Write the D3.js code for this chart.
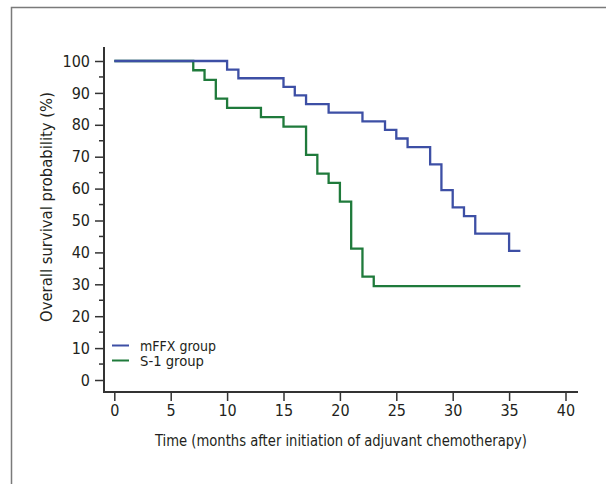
<!DOCTYPE html>
<html>
<head>
<meta charset="utf-8">
<script src="https://cdn.jsdelivr.net/npm/d3@7"></script>
<style>
  body { margin: 0; background: #fff; }
  svg { display: block; }
  text { font-family: "Liberation Sans Narrow", "DejaVu Sans Condensed", "Roboto", sans-serif; fill: #231f20; }
</style>
</head>
<body>
<svg width="606" height="484"></svg>
<script>
// Kaplan-Meier steps: time of each drop and survival (%) after it
var mffxTimes = [0, 10, 11, 15, 16, 17, 19, 22, 24, 25, 26, 28, 29, 30, 31, 32, 35, 36];
var mffxSurv  = [100, 97.3, 94.6, 91.9, 89.2, 86.5, 83.8, 81.1, 78.4, 75.7, 73.0, 67.6, 59.5, 54.1, 51.4, 45.9, 40.5, 40.5];
var s1Times = [0, 7, 8, 9, 10, 13, 15, 17, 18, 19, 20, 21, 22, 23, 36];
var s1Surv  = [100, 97.1, 94.1, 88.2, 85.3, 82.4, 79.4, 70.6, 64.7, 61.8, 55.9, 41.2, 32.4, 29.4, 29.4];
var xTicks = [0, 5, 10, 15, 20, 25, 30, 35, 40];
var yTicks = [0, 10, 20, 30, 40, 50, 60, 70, 80, 90, 100];
var seriesNames = ['mFFX group', 'S-1 group'];
var seriesColors = ['#3d4fa5', '#1f7a3b'];

var svg = d3.select('svg');

// outer frame (left and top only)
svg.append('path')
    .attr('d', 'M11.5,484 V7.5 H606')
    .attr('fill', 'none')
    .attr('stroke', '#7a7a7a')
    .attr('stroke-width', 1.5);

var x = d3.scaleLinear().domain([0, 40]).range([114.3, 565.5]);
var y = d3.scaleLinear().domain([0, 100]).range([380, 61]);

// y axis
var yAxis = d3.axisLeft(y).tickValues(yTicks).tickSize(9).tickPadding(5);
var gy = svg.append('g').attr('transform', 'translate(104,0)').call(yAxis);
gy.select('.domain').remove();
gy.selectAll('.tick line').attr('stroke', '#333').attr('stroke-width', 1.5);
gy.selectAll('.tick text').style('font-size', '16px').attr('fill', '#231f20');
// minor ticks
gy.selectAll('.minor')
    .data(d3.range(5, 100, 10))
    .enter().append('line')
    .attr('x1', -5).attr('x2', 0)
    .attr('y1', function(d) { return y(d); })
    .attr('y2', function(d) { return y(d); })
    .attr('stroke', '#333').attr('stroke-width', 1.5);

// x axis
var xAxis = d3.axisBottom(x).tickValues(xTicks).tickSize(9).tickPadding(4);
var gx = svg.append('g').attr('transform', 'translate(0,392)').call(xAxis);
gx.select('.domain').remove();
gx.selectAll('.tick line').attr('stroke', '#333').attr('stroke-width', 1.5);
gx.selectAll('.tick text').style('font-size', '16px').attr('fill', '#231f20');

// axis lines (L shape)
svg.append('path')
    .attr('d', 'M104,47 V392 H578')
    .attr('fill', 'none')
    .attr('stroke', '#333')
    .attr('stroke-width', 2);

// survival curves
var line = d3.line()
    .x(function(d) { return x(d[0]); })
    .y(function(d) { return y(d[1]); })
    .curve(d3.curveStepAfter);

var series = [d3.zip(mffxTimes, mffxSurv), d3.zip(s1Times, s1Surv)];
svg.selectAll('.km')
    .data([1, 0])
    .enter().append('path')
    .attr('class', 'km')
    .attr('d', function(i) { return line(series[i]); })
    .attr('fill', 'none')
    .attr('stroke', function(i) { return seriesColors[i]; })
    .attr('stroke-width', 2.3);

// legend
var lg = svg.append('g');
seriesNames.forEach(function(name, i) {
    var ly = 345.5 + i * 15;
    lg.append('line')
        .attr('x1', 112).attr('x2', 129)
        .attr('y1', ly).attr('y2', ly)
        .attr('stroke', seriesColors[i]).attr('stroke-width', 2);
    lg.append('text')
        .attr('x', 140).attr('y', ly + 5)
        .attr('textLength', i === 0 ? 76 : 64)
        .attr('lengthAdjust', 'spacingAndGlyphs')
        .style('font-size', '14px')
        .text(name);
});

// axis titles
svg.append('text')
    .attr('x', 341).attr('y', 446)
    .attr('text-anchor', 'middle')
    .attr('textLength', 372)
    .attr('lengthAdjust', 'spacingAndGlyphs')
    .style('font-size', '16px')
    .text('Time (months after initiation of adjuvant chemotherapy)');

svg.append('text')
    .attr('transform', 'translate(52,207) rotate(-90)')
    .attr('text-anchor', 'middle')
    .attr('textLength', 230)
    .attr('lengthAdjust', 'spacingAndGlyphs')
    .style('font-size', '16px')
    .text('Overall survival probability (%)');
</script>
</body>
</html>
